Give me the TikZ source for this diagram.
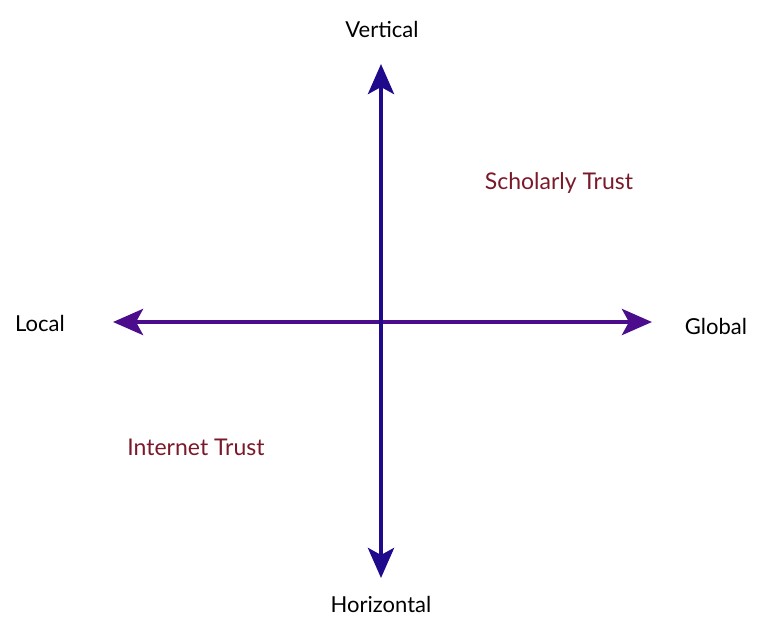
\documentclass[tikz,border=0pt]{standalone}
\usepackage{fontspec}
\setmainfont{Lato}
\usetikzlibrary{arrows.meta,positioning}
\definecolor{colorvert}{rgb}{0.12, 0.04, 0.55}
\definecolor{colorhoriz}{rgb}{0.30, 0.05, 0.55}
\definecolor{colortrust}{rgb}{0.48, 0.10, 0.16}
\tikzstyle{axislabel}=[font=\fontsize{22}{25}\selectfont, text=black, inner sep=1pt]
\tikzstyle{trust}=[font=\fontsize{23}{26}\selectfont, text=colortrust, inner sep=1pt]
\tikzstyle{axis}=[line width=4.5pt, {Stealth[length=30pt, width=26pt, inset=7pt]}-{Stealth[length=30pt, width=26pt, inset=7pt]}]
\begin{document}
\begin{tikzpicture}[x=1pt, y=-1pt]
	\useasboundingbox (0, 0) rectangle (760, 621);
	
	\coordinate (c) at (381, 322);
	\coordinate (top) at (381, 64);
	\coordinate (bot) at (381, 578);
	\coordinate (lft) at (113, 322);
	\coordinate (rgt) at (652, 322);
	
	\node[axislabel] at (382, 29) (vert) {Vertical};
	\node[axislabel] at (381, 604) (horiz) {Horizontal};
	\node[axislabel] at (40, 323) (local) {Local};
	\node[axislabel] at (716, 326) (global) {Global};
	
	\node[trust] at (559, 183) (scholarly) {Scholarly Trust};
	\node[trust] at (196, 447) (internet) {Internet Trust};
	
	\draw[axis, colorhoriz] (lft) -- (rgt);
	\draw[axis, colorvert] (bot) -- (top);
	
\end{tikzpicture}
\end{document}
